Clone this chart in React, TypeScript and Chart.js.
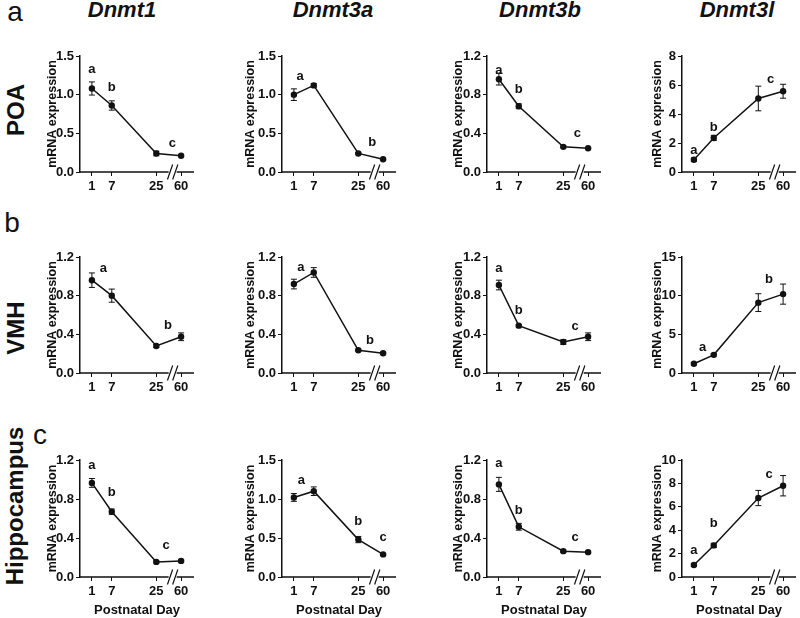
import React, { useEffect, useRef } from "react";
import { Chart, registerables } from "chart.js";

Chart.register(...registerables);

// ---------------- data ----------------
const days = [1, 7, 25, 60];
const genes = ["Dnmt1", "Dnmt3a", "Dnmt3b", "Dnmt3l"];
const regions = ["POA", "VMH", "Hippocampus"];
const panelLetters = ["a", "b", "c"];
const xAxisTitle = "Postnatal Day";
const yAxisTitle = "mRNA expression";

// POA (mean, SEM)
const poaDnmt1 = [1.08, 0.86, 0.24, 0.21];
const poaDnmt1Sem = [0.085, 0.06, 0.03, 0.01];
const poaDnmt3a = [1.0, 1.12, 0.24, 0.165];
const poaDnmt3aSem = [0.075, 0.025, 0.01, 0.01];
const poaDnmt3b = [0.96, 0.68, 0.26, 0.245];
const poaDnmt3bSem = [0.06, 0.025, 0.01, 0.008];
const poaDnmt3l = [0.85, 2.35, 5.07, 5.57];
const poaDnmt3lSem = [0.12, 0.18, 0.85, 0.48];

// VMH (mean, SEM)
const vmhDnmt1 = [0.96, 0.8, 0.28, 0.375];
const vmhDnmt1Sem = [0.075, 0.068, 0.015, 0.04];
const vmhDnmt3a = [0.92, 1.04, 0.235, 0.205];
const vmhDnmt3aSem = [0.05, 0.05, 0.01, 0.01];
const vmhDnmt3b = [0.91, 0.49, 0.32, 0.375];
const vmhDnmt3bSem = [0.05, 0.012, 0.025, 0.04];
const vmhDnmt3l = [1.2, 2.35, 9.1, 10.2];
const vmhDnmt3lSem = [0.15, 0.15, 1.15, 1.3];

// Hippocampus (mean, SEM)
const hipDnmt1 = [0.965, 0.67, 0.155, 0.165];
const hipDnmt1Sem = [0.045, 0.027, 0.01, 0.01];
const hipDnmt3a = [1.02, 1.1, 0.48, 0.29];
const hipDnmt3aSem = [0.05, 0.055, 0.04, 0.01];
const hipDnmt3b = [0.95, 0.515, 0.265, 0.255];
const hipDnmt3bSem = [0.072, 0.035, 0.012, 0.01];
const hipDnmt3l = [1.02, 2.7, 6.75, 7.8];
const hipDnmt3lSem = [0.12, 0.18, 0.65, 0.87];

// y axis ranges
const yMaxima = [
  [1.5, 1.5, 1.2, 8],
  [1.2, 1.2, 1.2, 15],
  [1.2, 1.5, 1.2, 10],
];
const ySteps = [
  [0.5, 0.5, 0.4, 2],
  [0.4, 0.4, 0.4, 5],
  [0.4, 0.5, 0.4, 2],
];

// significance letters: anchored on a day (day) or at an axis position (x); y in data units
type Letter = { day?: number; x?: number; y: number; t: string };
const poaLetters: Letter[][] = [
  [{ day: 1, y: 1.32, t: "a" }, { day: 7, y: 1.1, t: "b" }, { x: 16.16, y: 0.37, t: "c" }],
  [{ x: 2.16, y: 1.24, t: "a" }, { x: 15.77, y: 0.38, t: "b" }],
  [{ day: 1, y: 1.05, t: "a" }, { day: 7, y: 0.85, t: "b" }, { x: 15.77, y: 0.4, t: "c" }],
  [{ day: 1, y: 1.48, t: "a" }, { day: 7, y: 3.07, t: "b" }, { x: 15.45, y: 6.41, t: "c" }],
];
const vmhLetters: Letter[][] = [
  [{ x: 3.17, y: 1.08, t: "a" }, { x: 15.35, y: 0.49, t: "b" }],
  [{ x: 2.31, y: 1.09, t: "a" }, { x: 15.35, y: 0.34, t: "b" }],
  [{ day: 1, y: 1.08, t: "a" }, { day: 7, y: 0.65, t: "b" }, { x: 15.35, y: 0.48, t: "c" }],
  [{ x: 2.66, y: 3.36, t: "a" }, { x: 15.15, y: 12.1, t: "b" }],
];
const hipLetters: Letter[][] = [
  [{ day: 1, y: 1.14, t: "a" }, { day: 7, y: 0.87, t: "b" }, { x: 15.0, y: 0.32, t: "c" }],
  [{ x: 2.42, y: 1.24, t: "a" }, { day: 25, y: 0.71, t: "b" }, { day: 60, y: 0.51, t: "c" }],
  [{ day: 1, y: 1.17, t: "a" }, { day: 7, y: 0.68, t: "b" }, { x: 15.35, y: 0.41, t: "c" }],
  [{ day: 1, y: 2.3, t: "a" }, { day: 7, y: 4.57, t: "b" }, { x: 15.15, y: 8.8, t: "c" }],
];

const seriesGrid: number[][][][] = [
  [[poaDnmt1, poaDnmt1Sem], [poaDnmt3a, poaDnmt3aSem], [poaDnmt3b, poaDnmt3bSem], [poaDnmt3l, poaDnmt3lSem]],
  [[vmhDnmt1, vmhDnmt1Sem], [vmhDnmt3a, vmhDnmt3aSem], [vmhDnmt3b, vmhDnmt3bSem], [vmhDnmt3l, vmhDnmt3lSem]],
  [[hipDnmt1, hipDnmt1Sem], [hipDnmt3a, hipDnmt3aSem], [hipDnmt3b, hipDnmt3bSem], [hipDnmt3l, hipDnmt3lSem]],
];
const letterGrid = [poaLetters, vmhLetters, hipLetters];

// ---------------- layout / style ----------------
const INK = "#111111";
const FONT = "'Liberation Sans', Arial, Helvetica, sans-serif";
const colAxisX = [80, 282, 487, 682];
const rowTopY = [56, 257, 460];
const rowAreaH = [116, 116, 117];
const AREA_W = 115;
const Y_BOX_W = 48;
const PAD_TOP = 12;
const PAD_RIGHT = 3;
const X_BOX_H = [26, 26, 44];
const yTitleGap = [27, 31, 28, 24];
const geneTitleX = [122, 333, 540, 737];
const regionX = [16, 16, 15];
const regionY = [110, 328, 506];
const letterX = [15, 12, 40];
const letterBaseline = [22, 233, 445];
const X_MIN = -1.24;
const X_MAX = 20.23;
const BREAK_POS = 16.21;
const TICK_FONT = { family: FONT, size: 13, weight: "bold" as const };

// power-compressed day axis with a break after day 25
const BREAK_DAY = 25;
function axisPos(day: number) {
  const base = Math.pow(Math.min(day, BREAK_DAY), 0.8);
  return day <= BREAK_DAY ? base : base + (day - BREAK_DAY) * 0.1334;
}

function makeDecor(values: number[], sem: number[], letters: Letter[]) {
  return {
    id: "decor",
    beforeDatasetsDraw(chart: any) {
      const { ctx, scales } = chart;
      const xs = scales.x;
      const ys = scales.y;
      ctx.save();
      ctx.strokeStyle = INK;
      ctx.lineWidth = 1;
      values.forEach((v, i) => {
        const px = xs.getPixelForValue(axisPos(days[i]));
        const yTop = ys.getPixelForValue(v + sem[i]);
        const yBot = ys.getPixelForValue(v - sem[i]);
        ctx.beginPath();
        ctx.moveTo(px, yTop);
        ctx.lineTo(px, yBot);
        ctx.moveTo(px - 3, yTop);
        ctx.lineTo(px + 3, yTop);
        ctx.moveTo(px - 3, yBot);
        ctx.lineTo(px + 3, yBot);
        ctx.stroke();
      });
      ctx.restore();
    },
    afterDraw(chart: any) {
      const { ctx, chartArea, scales } = chart;
      const xs = scales.x;
      const ys = scales.y;
      const by = chartArea.bottom;
      const bx = xs.getPixelForValue(BREAK_POS);
      ctx.save();
      ctx.strokeStyle = INK;
      ctx.lineWidth = 1.5;
      ctx.beginPath();
      ctx.moveTo(chartArea.left - 0.75, by);
      ctx.lineTo(bx - 4, by);
      ctx.moveTo(bx + 4, by);
      ctx.lineTo(chartArea.right, by);
      ctx.stroke();
      ctx.lineWidth = 1.2;
      ctx.beginPath();
      [-2.6, 2.6].forEach((o) => {
        ctx.moveTo(bx + o - 2.6, by + 7.5);
        ctx.lineTo(bx + o + 2.6, by - 7.5);
      });
      ctx.stroke();
      ctx.fillStyle = INK;
      ctx.font = `bold 13px ${FONT}`;
      ctx.textAlign = "center";
      ctx.textBaseline = "middle";
      letters.forEach((l) => {
        const lx = l.day !== undefined ? axisPos(l.day) : (l.x as number);
        ctx.fillText(l.t, xs.getPixelForValue(lx), ys.getPixelForValue(l.y));
      });
      ctx.restore();
    },
  };
}

function Panel({ row, col }: { row: number; col: number }) {
  const ref = useRef<HTMLCanvasElement>(null);
  const width = Y_BOX_W + AREA_W + PAD_RIGHT;
  const height = PAD_TOP + rowAreaH[row] + X_BOX_H[row];
  const left = colAxisX[col] - Y_BOX_W;
  const top = rowTopY[row] - PAD_TOP;

  useEffect(() => {
    const [values, sem] = seriesGrid[row][col];
    const letters = letterGrid[row][col];
    const step = ySteps[row][col];
    const xh = X_BOX_H[row];
    const titleLine = 12.5 * 1.2;
    const chart = new Chart(ref.current as HTMLCanvasElement, {
      type: "line",
      data: {
        datasets: [
          {
            data: days.map((d, i) => ({ x: axisPos(d), y: values[i] })),
            borderColor: INK,
            borderWidth: 1.5,
            pointRadius: 3.2,
            pointBackgroundColor: INK,
            pointBorderColor: INK,
            pointBorderWidth: 0,
            tension: 0,
          },
        ],
      },
      options: {
        animation: false,
        responsive: false,
        maintainAspectRatio: false,
        layout: { padding: { top: PAD_TOP, left: 0, right: PAD_RIGHT, bottom: 0 } },
        plugins: { legend: { display: false }, tooltip: { enabled: false } },
        scales: {
          x: {
            type: "linear",
            min: X_MIN,
            max: X_MAX,
            afterBuildTicks: (axis: any) => {
              axis.ticks = days.map((d) => ({ value: axisPos(d) }));
            },
            afterFit: (s: any) => {
              s.height = xh;
            },
            ticks: {
              autoSkip: false,
              maxRotation: 0,
              padding: 3,
              color: INK,
              font: TICK_FONT,
              callback: (v: any) => {
                const i = days.findIndex((d) => Math.abs(axisPos(d) - Number(v)) < 1e-6);
                return i >= 0 ? String(days[i]) : "";
              },
            },
            grid: { display: true, drawOnChartArea: false, drawTicks: true, tickLength: 4, color: INK, lineWidth: 1 },
            border: { display: false },
            title: {
              display: row === 2,
              text: xAxisTitle,
              color: INK,
              font: { family: FONT, size: 13, weight: "bold" },
              padding: { top: 0, bottom: 3 },
            },
          },
          y: {
            min: 0,
            max: yMaxima[row][col],
            afterFit: (s: any) => {
              s.width = Y_BOX_W;
            },
            ticks: {
              stepSize: step,
              padding: 2,
              color: INK,
              font: TICK_FONT,
              callback: (v: any) => (Number.isInteger(step) ? String(Math.round(Number(v))) : Number(v).toFixed(1)),
            },
            grid: { display: true, drawOnChartArea: false, drawTicks: true, tickLength: 4, color: INK, lineWidth: 1 },
            border: { display: true, color: INK, width: 1.5 },
            title: {
              display: true,
              text: yAxisTitle,
              color: INK,
              font: { family: FONT, size: 12.5, weight: "bold" },
              padding: { top: Y_BOX_W - yTitleGap[col] - titleLine / 2, bottom: 0 },
            },
          },
        },
      } as any,
      plugins: [makeDecor(values, sem, letters)],
    });
    return () => chart.destroy();
  }, [row, col]);

  return (
    <canvas
      ref={ref}
      width={width}
      height={height}
      style={{ position: "absolute", left, top, width, height }}
    />
  );
}

export default function App() {
  return (
    <div
      style={{
        position: "fixed",
        left: 0,
        top: 0,
        width: 800,
        height: 618,
        background: "#ffffff",
        overflow: "hidden",
        fontFamily: FONT,
        color: INK,
      }}
    >
      {genes.map((g, c) => (
        <div
          key={g}
          style={{
            position: "absolute",
            left: geneTitleX[c],
            top: 9.5,
            transform: "translate(-50%, -50%)",
            fontSize: 22,
            fontWeight: "bold",
            fontStyle: "italic",
            lineHeight: 1,
            whiteSpace: "nowrap",
          }}
        >
          {g}
        </div>
      ))}
      {regions.map((r, i) => (
        <div
          key={r}
          style={{
            position: "absolute",
            left: regionX[i],
            top: regionY[i],
            transform: "translate(-50%, -50%) rotate(-90deg)",
            fontSize: 24,
            fontWeight: "bold",
            lineHeight: 1,
            whiteSpace: "nowrap",
          }}
        >
          {r}
        </div>
      ))}
      {panelLetters.map((l, i) => (
        <div
          key={l}
          style={{
            position: "absolute",
            left: letterX[i],
            top: letterBaseline[i] - 0.8465 * 28,
            transform: "translateX(-50%)",
            fontSize: 28,
            lineHeight: 1,
            whiteSpace: "nowrap",
          }}
        >
          {l}
        </div>
      ))}
      {[0, 1, 2].map((r) => [0, 1, 2, 3].map((c) => <Panel key={`${r}-${c}`} row={r} col={c} />))}
    </div>
  );
}
